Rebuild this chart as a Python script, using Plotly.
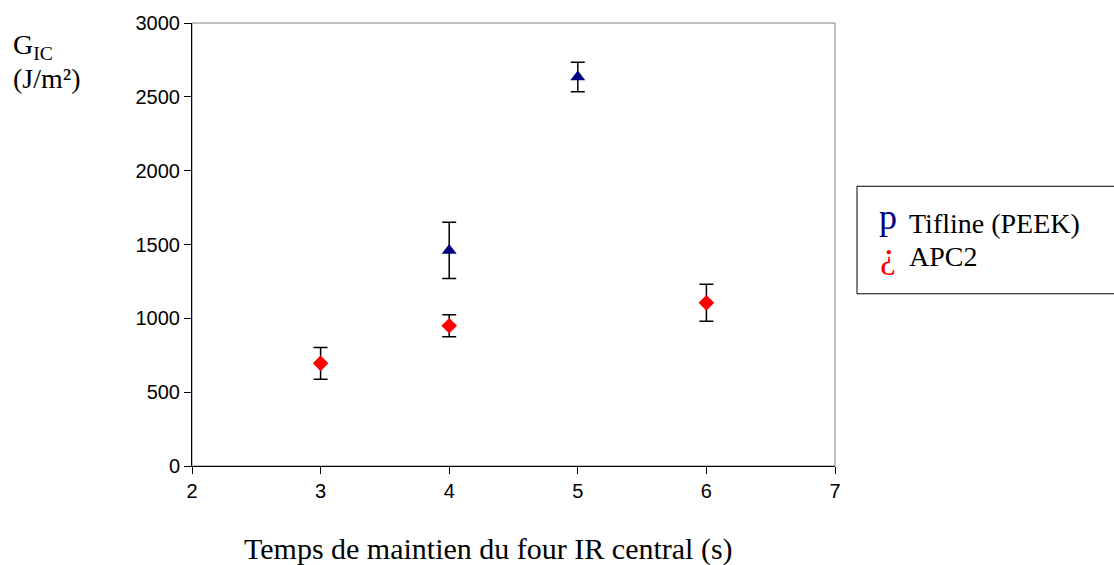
import plotly.graph_objects as go

# Data
tif_x = [4, 5]
tif_y = [1460, 2635]
tif_err = [190, 100]

apc_x = [3, 4, 6]
apc_y = [695, 950, 1105]
apc_err = [108, 75, 125]

x_ticks = [2, 3, 4, 5, 6, 7]
y_ticks = [0, 500, 1000, 1500, 2000, 2500, 3000]

fig = go.Figure()
fig.add_trace(go.Scatter(
    x=tif_x, y=tif_y, mode="markers", name="Tifline (PEEK)",
    marker=dict(symbol="triangle-up", color="#000080", size=13),
    error_y=dict(type="data", array=tif_err, color="black", thickness=1.5, width=7),
    showlegend=False))
fig.add_trace(go.Scatter(
    x=apc_x, y=apc_y, mode="markers", name="APC2",
    marker=dict(symbol="diamond", color="#FF0000", size=12),
    error_y=dict(type="data", array=apc_err, color="black", thickness=1.5, width=7),
    showlegend=False))

axis_common = dict(showline=True, linecolor="black", linewidth=1, mirror=False,
                   ticks="outside", ticklen=7, tickcolor="black", showgrid=False,
                   zeroline=False,
                   tickfont=dict(family="Liberation Sans, Arial", size=20, color="black"))

fig.update_xaxes(range=[2, 7], tickvals=x_ticks, **axis_common)
fig.update_yaxes(range=[0, 3000], tickvals=y_ticks, **axis_common)

serif = "Liberation Serif, Times New Roman"
FS = 28


def px(xw):
    return (xw - 192) / 643


def py(yw):
    return (466 - yw) / 445


def txt(text, x, y, color="black", xanchor="left", size=FS):
    return dict(text=text, xref="paper", yref="paper", x=x, y=y,
                xanchor=xanchor, yanchor="middle", showarrow=False,
                font=dict(family=serif, size=size, color=color))


fig.update_layout(
    width=1114, height=565, autosize=False,
    margin=dict(l=192, r=279, t=21, b=99),
    paper_bgcolor="white", plot_bgcolor="white",
    annotations=[
        txt("Temps de maintien du four IR central (s)", px(488), py(549), xanchor="center", size=30),
        txt("G<sub>IC</sub>", px(11), py(45)),
        txt("(J/m²)", px(11), py(77)),
        txt("p", px(888), py(216), color="#000080", xanchor="center", size=36),
        txt("Tifline (PEEK)", px(907), py(222)),
        txt("¿", px(888), py(254), color="#FF0000", xanchor="center", size=36),
        txt("APC2", px(907), py(256)),
    ],
    shapes=[
        dict(type="rect", xref="paper", yref="paper", x0=0, x1=1, y0=0, y1=1,
             line=dict(color="#808080", width=1), fillcolor="rgba(0,0,0,0)", layer="below"),
        dict(type="rect", xref="paper", yref="paper",
             x0=px(857), x1=px(1125), y0=py(293), y1=py(185),
             line=dict(color="black", width=1), fillcolor="rgba(0,0,0,0)"),
    ],
)

fig.write_html("out.html", config={"displayModeBar": False},
               post_script="document.body.style.margin='0';")
